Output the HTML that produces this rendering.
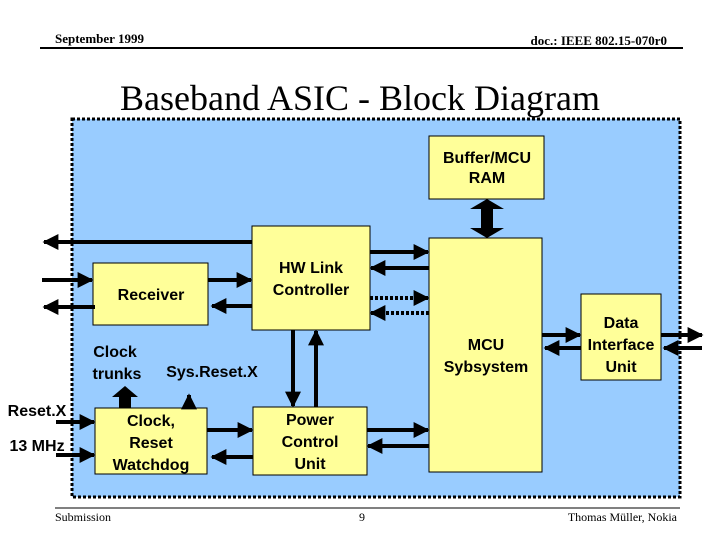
<!DOCTYPE html>
<html><head><meta charset="utf-8"><style>
html,body{margin:0;padding:0;background:#fff;}
svg{display:block;}
.s{font-family:"Liberation Serif",serif;}
.b{font-family:"Liberation Sans",sans-serif;font-weight:bold;font-size:16px;fill:#000;}
</style></head><body>
<svg width="720" height="540" viewBox="0 0 720 540" xmlns="http://www.w3.org/2000/svg">
<defs>
<marker id="a" viewBox="0 0 10 10" refX="9" refY="5" markerWidth="4" markerHeight="4" orient="auto" markerUnits="strokeWidth"><path d="M0,0 L10,5 L0,10 z" fill="#000"/></marker>
</defs>
<text x="55" y="43" class="s" font-size="13" font-weight="bold" transform="scale(1,1)">September 1999</text>
<text x="667" y="45" class="s" font-size="13" font-weight="bold" text-anchor="end">doc.: IEEE 802.15-070r0</text>
<line x1="40" y1="48" x2="683" y2="48" stroke="#000" stroke-width="2"/>
<text x="360" y="110" class="s" font-size="36" text-anchor="middle">Baseband ASIC - Block Diagram</text>
<rect x="72" y="119" width="608" height="378" fill="#99ccff" stroke="#000" stroke-width="3" stroke-dasharray="3,2"/>
<g fill="#ffff99" stroke="#000" stroke-width="1">
<rect x="429" y="136" width="115" height="63"/>
<rect x="429" y="238" width="113" height="234"/>
<rect x="252" y="226" width="118" height="104"/>
<rect x="93" y="263" width="115" height="62"/>
<rect x="95" y="408" width="112" height="66"/>
<rect x="253" y="407" width="114" height="68"/>
<rect x="581" y="294" width="80" height="86"/>
</g>
<g class="b" text-anchor="middle">
<text x="487" y="163">Buffer/MCU</text><text x="487" y="183">RAM</text>
<text x="311" y="273">HW Link</text><text x="311" y="295">Controller</text>
<text x="151" y="300">Receiver</text>
<text x="486" y="350">MCU</text><text x="486" y="372">Sybsystem</text>
<text x="621" y="328">Data</text><text x="621" y="350">Interface</text><text x="621" y="372">Unit</text>
<text x="151" y="426">Clock,</text><text x="151" y="448">Reset</text><text x="151" y="470">Watchdog</text>
<text x="310" y="425">Power</text><text x="310" y="447">Control</text><text x="310" y="469">Unit</text>
<text x="115" y="357">Clock</text><text x="117" y="379">trunks</text>
<text x="212" y="377">Sys.Reset.X</text>
<text x="37" y="416">Reset.X</text>
<text x="37" y="451">13 MHz</text>
</g>
<g stroke="#000" stroke-width="4" fill="none" marker-end="url(#a)">
<line x1="252" y1="242" x2="44" y2="242"/>
<line x1="42" y1="280" x2="92" y2="280"/>
<line x1="95" y1="307" x2="44" y2="307"/>
<line x1="208" y1="280" x2="251" y2="280"/>
<line x1="252" y1="306" x2="212" y2="306"/>
<line x1="370" y1="252" x2="428" y2="252"/>
<line x1="429" y1="268" x2="371" y2="268"/>
<line x1="370" y1="298" x2="428" y2="298" stroke-dasharray="3,2"/>
<line x1="429" y1="313" x2="371" y2="313" stroke-dasharray="3,2"/>
<line x1="293" y1="330" x2="293" y2="406"/>
<line x1="316" y1="407" x2="316" y2="331"/>
<line x1="207" y1="430" x2="252" y2="430"/>
<line x1="253" y1="457" x2="212" y2="457"/>
<line x1="367" y1="430" x2="428" y2="430"/>
<line x1="429" y1="446" x2="368" y2="446"/>
<line x1="56" y1="422" x2="94" y2="422"/>
<line x1="56" y1="455" x2="94" y2="455"/>
<line x1="189" y1="408" x2="189" y2="395"/>
<line x1="542" y1="335" x2="580" y2="335"/>
<line x1="581" y1="348" x2="545" y2="348"/>
<line x1="661" y1="335" x2="702" y2="335"/>
<line x1="702" y1="348" x2="664" y2="348"/>
</g>
<path d="M119,408 L119,397 L112,397 L125,386 L138,397 L131,397 L131,408 Z" fill="#000"/>
<path d="M481,209 L470,209 L487,199 L504,209 L493,209 L493,228 L504,228 L487,238 L470,228 L481,228 Z" fill="#000"/>
<line x1="55" y1="508" x2="680" y2="508" stroke="#000" stroke-width="1"/>
<text x="55" y="521" class="s" font-size="12">Submission</text>
<text x="362" y="521" class="s" font-size="12" text-anchor="middle">9</text>
<text x="677" y="521" class="s" font-size="12" text-anchor="end">Thomas Müller, Nokia</text>
</svg>
</body></html>
